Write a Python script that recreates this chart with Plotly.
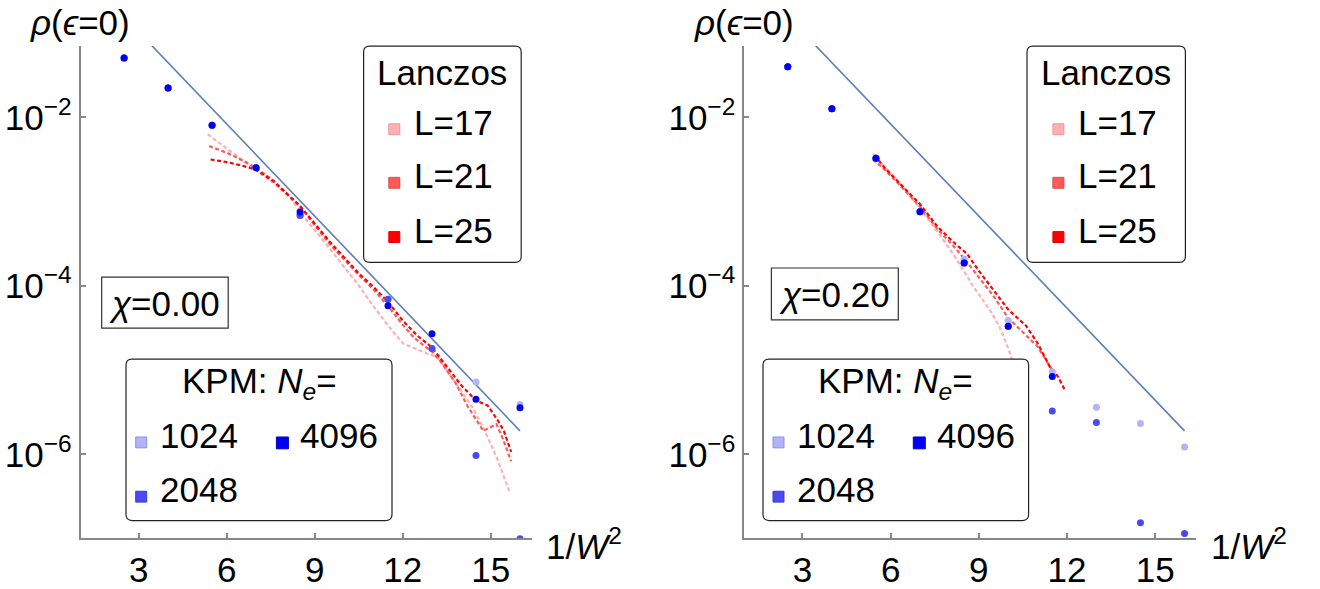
import numpy as np
import plotly.graph_objects as go

W, H = 1320, 589
FONT = "Liberation Sans, Arial, sans-serif"

# ---------------- data (log10 of rho(eps=0)) ----------------
# KPM, chi = 0.00
kpm_x_left = [2.5, 4, 5.5, 7, 8.5, 11.5, 13, 14.5, 16]
kpm_1024_left = [-1.294, -1.652, -2.094, -2.597, -3.163, -4.157, -4.742, -5.141, -5.406]
kpm_2048_left = [-1.294, -1.652, -2.094, -2.597, -3.163, -4.157, -4.742, -6.012, -7.0]
kpm_4096_left = [-1.294, -1.652, -2.094, -2.597, -3.124, -4.235, -4.567, -5.344, -5.445]

# KPM, chi = 0.20
kpm_x_right = [2.5, 4, 5.5, 7, 8.5, 10, 11.5, 13, 14.5, 16]
kpm_1024_right = [-1.399, -1.898, -2.484, -3.12, -3.68, -4.41, -5.02, -5.441, -5.632, -5.913]
kpm_2048_right = [-1.399, -1.898, -2.484, -3.12, -3.728, -4.478, -5.485, -5.621, -6.81, -6.937]
kpm_x_right_4096 = [2.5, 4, 5.5, 7, 8.5, 10, 11.5]
kpm_4096_right = [-1.399, -1.898, -2.484, -3.12, -3.728, -4.478, -5.075]

# Lanczos, chi = 0.00
lz17_x_left = [5.35, 5.8, 6.3, 7.0, 7.6, 8.2, 8.6, 9.2, 9.9, 10.45, 11.0, 11.5, 12.0, 12.6, 13.2, 13.75, 14.4, 14.8, 15.2, 15.65]
lz17_left = [-2.20, -2.32, -2.45, -2.63, -2.78, -2.97, -3.17, -3.42, -3.73, -3.97, -4.24, -4.47, -4.68, -4.77, -4.85, -5.13, -5.45, -5.72, -6.03, -6.45]
lz21_x_left = [5.4, 6.0, 6.6, 7.0, 7.6, 8.5, 9.5, 10.5, 11.0, 11.5, 12.0, 12.4, 13.0, 13.3, 13.8, 14.2, 14.75, 15.2, 15.4, 15.7]
lz21_left = [-2.34, -2.42, -2.52, -2.60, -2.75, -3.06, -3.50, -3.87, -4.04, -4.24, -4.46, -4.62, -4.78, -4.90, -5.15, -5.42, -5.72, -5.64, -5.80, -6.08]
lz25_x_left = [5.45, 6.0, 6.5, 7.0, 7.6, 8.5, 9.5, 10.5, 11.0, 11.5, 12.0, 12.5, 13.0, 13.5, 14.0, 14.5, 14.9, 15.25, 15.45, 15.7]
lz25_left = [-2.50, -2.53, -2.57, -2.62, -2.76, -3.05, -3.47, -3.85, -4.01, -4.19, -4.41, -4.59, -4.73, -4.95, -5.18, -5.36, -5.42, -5.60, -5.72, -5.97]

# Lanczos, chi = 0.20
lz17_x_right = [5.4, 6.0, 6.5, 7.0, 7.6, 8.2, 8.8, 9.4, 9.7, 10.0, 10.3, 10.6]
lz17_right = [-2.43, -2.66, -2.86, -3.08, -3.36, -3.66, -4.00, -4.30, -4.48, -4.74, -5.05, -5.45]
lz21_x_right = [5.4, 5.8, 6.3, 7.0, 7.6, 8.2, 8.6, 9.0, 9.5, 10.0, 10.5, 11.0, 11.5]
lz21_right = [-2.50, -2.62, -2.80, -3.06, -3.33, -3.55, -3.72, -3.90, -4.12, -4.38, -4.55, -4.72, -5.00]
lz25_x_right = [5.45, 5.8, 6.3, 7.0, 7.6, 8.2, 8.6, 9.0, 9.5, 10.0, 10.6, 11.0, 11.4, 11.7, 11.95]
lz25_right = [-2.45, -2.60, -2.78, -3.03, -3.30, -3.50, -3.62, -3.82, -4.05, -4.28, -4.47, -4.68, -4.95, -5.08, -5.25]

# reference power-law line (same in both panels)
fit_x = [2.0, 16.0]
fit_log = [-0.622, -5.72]

x_ticks = [3, 6, 9, 12, 15]
y_ticks = [1e-6, 1e-4, 1e-2]
y_ticktext = ["10<sup>\u22126</sup>", "10<sup>\u22124</sup>", "10<sup>\u22122</sup>"]

chi_labels = ["0.00", "0.20"]
lanczos_sizes = ["17", "21", "25"]
kpm_sizes = ["1024", "2048", "4096"]

# ---------------- styles ----------------
C_1024, C_2048, C_4096 = "#b3b3fb", "#4a4af4", "#0000f5"
C_L17, C_L21, C_L25 = "#ffb0b0", "#ff5a5a", "#ff0000"
C_FIT = "#5b7fb6"
AX = "#888888"


def p(v):
    return np.power(10.0, np.asarray(v, dtype=float))


fig = go.Figure()


def add_panel(xa, ya, curves, kpm):
    for (xs, ys, col) in curves:
        fig.add_trace(go.Scatter(x=xs, y=p(ys), mode="lines", xaxis=xa, yaxis=ya,
                                 line=dict(color=col, width=2.2, dash="4px,2.5px"),
                                 showlegend=False, hoverinfo="skip"))
    fig.add_trace(go.Scatter(x=fit_x, y=p(fit_log), mode="lines", xaxis=xa, yaxis=ya,
                             line=dict(color=C_FIT, width=1.6), showlegend=False, hoverinfo="skip"))
    for (xs, ys, col) in kpm:
        fig.add_trace(go.Scatter(x=xs, y=p(ys), mode="markers", xaxis=xa, yaxis=ya,
                                 marker=dict(color=col, size=7, line=dict(width=0)),
                                 showlegend=False, hoverinfo="skip"))


add_panel("x", "y",
          [(lz17_x_left, lz17_left, C_L17), (lz21_x_left, lz21_left, C_L21), (lz25_x_left, lz25_left, C_L25)],
          [(kpm_x_left, kpm_1024_left, C_1024), (kpm_x_left, kpm_2048_left, C_2048),
           (kpm_x_left, kpm_4096_left, C_4096)])
add_panel("x2", "y2",
          [(lz17_x_right, lz17_right, C_L17), (lz21_x_right, lz21_right, C_L21), (lz25_x_right, lz25_right, C_L25)],
          [(kpm_x_right, kpm_1024_right, C_1024), (kpm_x_right, kpm_2048_right, C_2048),
           (kpm_x_right_4096, kpm_4096_right, C_4096)])

# ---------------- axes ----------------
y_dom = [1 - 545.7 / H, 1 - 46.7 / H]
x_doms = [[80.7 / W, 531.7 / W], [744.3 / W, 1196.3 / W]]
tickfont = dict(family=FONT, size=35, color="black")

common_x = dict(range=[1.02, 16.4], tickvals=x_ticks, ticks="inside", ticklen=5, tickwidth=1.5,
                tickcolor=AX, showline=True, linecolor=AX, linewidth=2, showgrid=False,
                zeroline=False, tickfont=tickfont)
common_y = dict(type="log", range=[-6.995, -1.1536], tickvals=y_ticks, ticktext=y_ticktext,
                ticks="inside", ticklen=5, tickwidth=1.5, tickcolor=AX, showline=True,
                linecolor=AX, linewidth=2, showgrid=False, zeroline=False, tickfont=tickfont,
                domain=y_dom)

fig.update_layout(
    width=W, height=589, margin=dict(l=0, r=0, t=0, b=0),
    paper_bgcolor="white", plot_bgcolor="white", showlegend=False,
    xaxis=dict(common_x, domain=x_doms[0], anchor="y"),
    yaxis=dict(common_y, anchor="x"),
    xaxis2=dict(common_x, domain=x_doms[1], anchor="y2"),
    yaxis2=dict(common_y, anchor="x2"),
)

# ---------------- decorations (pixel helpers) ----------------
shapes, annotations = [], []


def X(px):
    return px / W


def Y(py):
    return 1 - py / H


def text(s, x, y, size=35, xanchor="center", yanchor="middle"):
    annotations.append(dict(xref="paper", yref="paper", x=X(x), y=Y(y), text=s, showarrow=False,
                            xanchor=xanchor, yanchor=yanchor,
                            font=dict(family=FONT, size=size, color="black")))


def rounded_box(x0, y0, x1, y1, r=6):
    path = (f"M {X(x0 + r)},{Y(y0)} L {X(x1 - r)},{Y(y0)} Q {X(x1)},{Y(y0)} {X(x1)},{Y(y0 + r)} "
            f"L {X(x1)},{Y(y1 - r)} Q {X(x1)},{Y(y1)} {X(x1 - r)},{Y(y1)} "
            f"L {X(x0 + r)},{Y(y1)} Q {X(x0)},{Y(y1)} {X(x0)},{Y(y1 - r)} "
            f"L {X(x0)},{Y(y0 + r)} Q {X(x0)},{Y(y0)} {X(x0 + r)},{Y(y0)} Z")
    shapes.append(dict(type="path", xref="paper", yref="paper", path=path,
                       fillcolor="white", line=dict(color="#222222", width=1.2)))


def square(cx, cy, col, edge, s=11):
    shapes.append(dict(type="rect", xref="paper", yref="paper",
                       x0=X(cx - s / 2), x1=X(cx + s / 2), y0=Y(cy + s / 2), y1=Y(cy - s / 2),
                       fillcolor=col, line=dict(color=edge, width=1)))


def plain_box(x0, y0, x1, y1):
    shapes.append(dict(type="rect", xref="paper", yref="paper", x0=X(x0), x1=X(x1), y0=Y(y1), y1=Y(y0),
                       fillcolor="white", line=dict(color="#333333", width=1.2)))


panels = [
    dict(dx=0, title_x=80, wlab_x=584, chi_box=(101.7, 281, 228.2, 332.7),
         lz_box=(363.6, 46.7, 521.2, 266), lz_sq=394.3,
         kpm_box=(126, 364, 392, 527.7), kpm_sq1=141.2, kpm_sq2=282.4),
    dict(dx=1, title_x=744, wlab_x=1248.5, chi_box=(771.4, 271.7, 898.3, 324.3),
         lz_box=(1027, 46.7, 1185.4, 266), lz_sq=1058.4,
         kpm_box=(763, 364, 1028.6, 527.7), kpm_sq1=778.5, kpm_sq2=919.3),
]

lz_cols = [(C_L17, "#e89a9a"), (C_L21, "#e04848"), (C_L25, "#e00000")]
lz_rows = [124, 178.3, 233.3]

for i, pn in enumerate(panels):
    # axis titles
    text("<i>\u03c1</i>(<i>\u03f5</i>=0)", pn["title_x"], 22.5)
    text("1/<i>W</i><sup>2</sup>", pn["wlab_x"], 551)

    # chi label
    bx0, by0, bx1, by1 = pn["chi_box"]
    plain_box(bx0, by0, bx1, by1)
    text(f"<i>\u03c7</i>={chi_labels[i]}", (bx0 + bx1) / 2, (by0 + by1) / 2 + 1)

    # Lanczos legend
    x0, y0, x1, y1 = pn["lz_box"]
    rounded_box(x0, y0, x1, y1)
    text("Lanczos", (x0 + x1) / 2, 73)
    for (col, edge), L, yy in zip(lz_cols, lanczos_sizes, lz_rows):
        square(pn["lz_sq"], yy + 7, col, edge)
        text(f"L={L}", pn["lz_sq"] + 17.5, yy, xanchor="left")

    # KPM legend
    x0, y0, x1, y1 = pn["kpm_box"]
    rounded_box(x0, y0, x1, y1)
    text("KPM: <i>N</i><sub><i>e</i></sub>=", (x0 + x1) / 2, 388)
    square(pn["kpm_sq1"], 448.5, C_1024, "#9090e0")
    text(kpm_sizes[0], pn["kpm_sq1"] + 16.5, 441, xanchor="left")
    square(pn["kpm_sq1"], 503.5, C_2048, "#3a3ad0")
    text(kpm_sizes[1], pn["kpm_sq1"] + 16.5, 496, xanchor="left")
    square(pn["kpm_sq2"], 449, C_4096, "#0000c8", s=12)
    text(kpm_sizes[2], pn["kpm_sq2"] + 16, 441, xanchor="left")

fig.update_layout(shapes=shapes, annotations=annotations)
fig.write_html("out.html")
